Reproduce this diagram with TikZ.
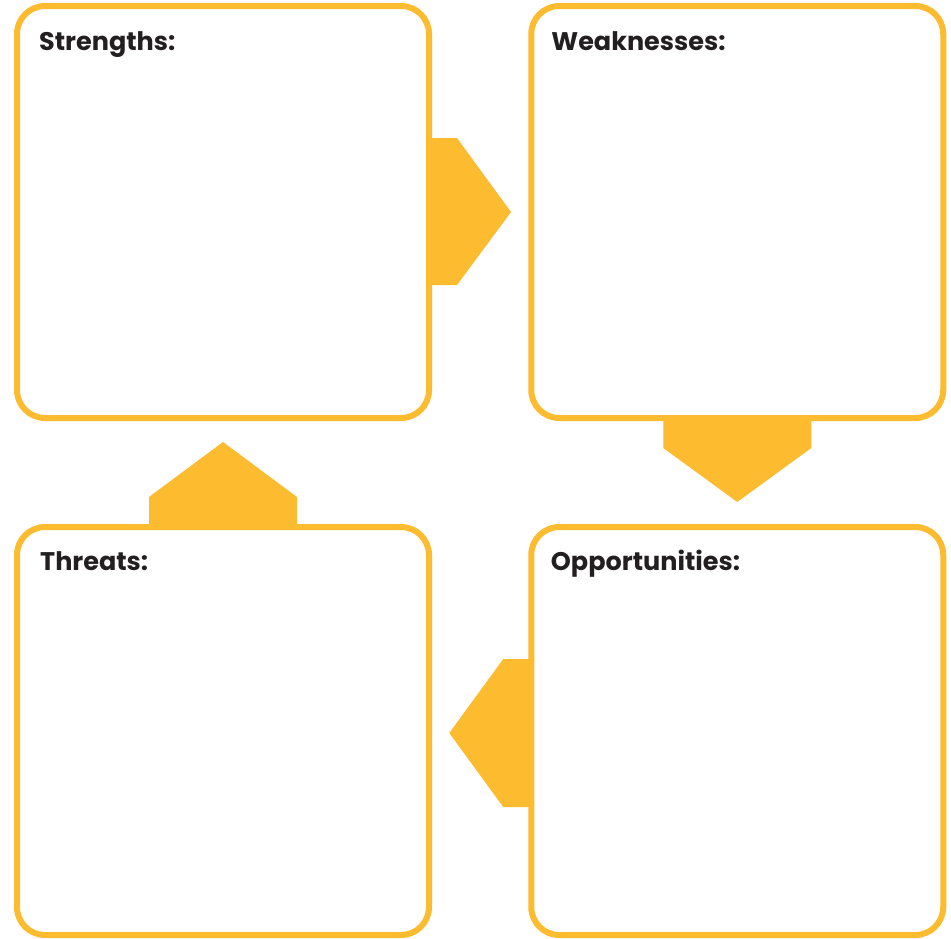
\documentclass[tikz,border=0pt]{standalone}
\usepackage{fontspec}
\setmainfont{Poppins}
\usetikzlibrary{positioning, calc}

\definecolor{swotyellow}{HTML}{FDBB30}
\definecolor{swotink}{HTML}{231F20}

\tikzset{
    panel/.style={draw=swotyellow, line width=6pt, rounded corners=28pt,
        minimum width=412pt, minimum height=412pt, inner sep=0pt, outer sep=0pt},
    heading/.style={anchor=base west, inner sep=0pt, text=swotink,
        font=\fontsize{25.5}{30}\selectfont\bfseries},
    flow/.style={fill=swotyellow}
}

\begin{document}
\begin{tikzpicture}[x=1pt, y=-1pt]
    \useasboundingbox (0,0) rectangle (951,938);

    % the four quadrants
    \node[panel] (str) at (223,212) {};
    \node[panel] (wea) at (737.25,212) {};
    \node[panel, minimum height=408pt] (thr) at (223,731) {};
    \node[panel, minimum height=408pt] (opp) at (737.25,731) {};

    \node[heading] (strtxt) at ($(str.north west)+(22,44)$) {Strengths:};
    \node[heading] (weatxt) at ($(wea.north west)+(20,44)$) {Weaknesses:};
    \node[heading] (thrtxt) at ($(thr.north west)+(23,43)$) {Threats:};
    \node[heading] (opptxt) at ($(opp.north west)+(19.5,43)$) {Opportunities:};

    % arrows between quadrants
    \fill[flow] ($(str.east)+(0,-74)$) -- ($(str.east)+(28,-74)$)
        -- ($(str.east)+(82,0)$) -- ($(str.east)+(28,73)$)
        -- ($(str.east)+(0,73)$) -- cycle;
    \fill[flow] ($(wea.south)+(-74,0)$) -- ($(wea.south)+(-74,30)$)
        -- ($(wea.south)+(0,84)$) -- ($(wea.south)+(74,30)$)
        -- ($(wea.south)+(74,0)$) -- cycle;
    \fill[flow] ($(opp.west)+(0,-72)$) -- ($(opp.west)+(-28,-72)$)
        -- ($(opp.west)+(-82,2)$) -- ($(opp.west)+(-28,76)$)
        -- ($(opp.west)+(0,76)$) -- cycle;
    \fill[flow] ($(thr.north)+(-74,0)$) -- ($(thr.north)+(-74,-30)$)
        -- ($(thr.north)+(0,-85)$) -- ($(thr.north)+(74,-30)$)
        -- ($(thr.north)+(74,0)$) -- cycle;

\end{tikzpicture}
\end{document}
